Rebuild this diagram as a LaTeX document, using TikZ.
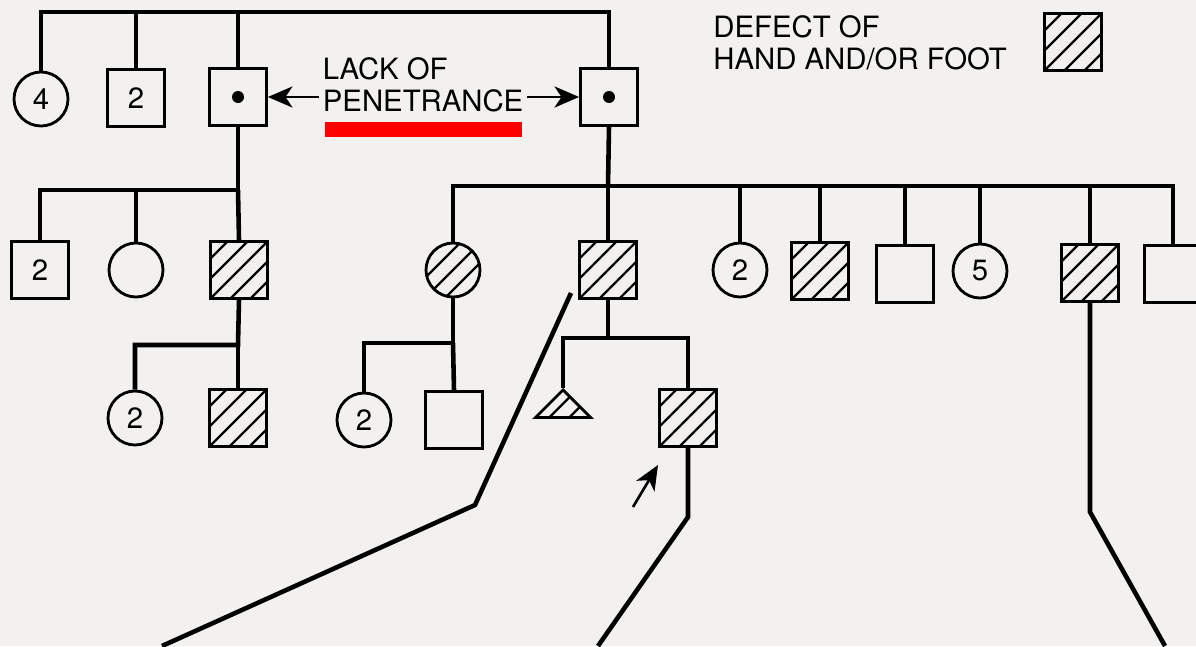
\documentclass[tikz,border=0pt]{standalone}
\usepackage{fontspec}
\setmainfont{TeX Gyre Heros}
\usepackage{tikz}
\usetikzlibrary{shapes.geometric, arrows.meta, positioning, calc}
\definecolor{paper}{RGB}{242,241,239}
\definecolor{marker}{RGB}{255,0,0}

\begin{document}
\begin{tikzpicture}[
  x=0.02cm, y=-0.02cm,
  font=\fontsize{16.7}{18}\selectfont,
  line/.style={line width=2.6pt, line join=miter},
  sq/.style={rectangle, draw, line width=1.6pt, fill=paper,
             minimum size=1.14cm, inner sep=0pt},
  ci/.style={circle, draw, line width=1.6pt, fill=paper,
             minimum size=1.08cm, inner sep=0pt},
  tri/.style={isosceles triangle, isosceles triangle apex angle=90,
              shape border rotate=90, draw, line width=1.6pt, fill=paper,
              minimum height=0.55cm, inner sep=0pt},
  hatched/.style={path picture={
      \foreach \k in {-4,...,4}
        \draw[black, line width=1.3pt]
          ([shift={(\k*0.4cm-1cm,-1cm)}]path picture bounding box.center) -- ++(2cm,2cm);}},
  carrier/.style={path picture={
      \fill[black] (path picture bounding box.center) circle (0.12cm);}},
  arr/.style={-{Stealth[length=14pt,width=12pt,inset=4pt]}, line width=1.5pt},
]
\fill[paper] (0,0) rectangle (1196,646);
\useasboundingbox (0,0) rectangle (1196,646);

% generation I
\node[ci] (i1) at (41,99) {4};
\node[sq] (i2) at (136,98) {2};
\node[sq, carrier] (i3) at (238,97) {};
\node[sq, carrier] (i4) at (609,97) {};
\coordinate (g1) at (0,12);

\draw[line] (i1.north) -- (i1.north |- g1) -- (i4.north |- g1) -- (i4.north);
\draw[line] (i2.north) -- (i2.north |- g1);
\draw[line] (i3.north) -- (i3.north |- g1);

\node[align=left, anchor=west, inner sep=2pt] (lop) at (319,85) {LACK OF\\PENETRANCE};
\fill[marker] (325,122) rectangle (522,137);
\draw[arr] (lop.west |- i3) -- (i3.east);
\draw[arr] (lop.east |- i4) -- (i4.west);

% legend
\node[align=left, anchor=west, inner sep=0pt] (key) at (713,43) {DEFECT OF\\HAND AND/OR FOOT};
\node[sq, hatched] (keysq) at (1073,42) {};

% generation II, left branch
\node[sq] (a1) at (40,270) {2};
\node[ci] (a2) at (136,270) {};
\node[sq, hatched] (a3) at (239,270) {};
\coordinate (s2) at (238,190);

\draw[line] (i3.south) -- (s2) -| (a1.north);
\draw[line] (a2.north) -- (a2.north |- s2);
\draw[line] (s2) -- (a3.north);

% generation III, left branch
\node[ci] (b1) at (135,418) {2};
\node[sq, hatched] (b2) at (238,418) {};
\coordinate (s3) at (238,345);

\draw[line] (a3.south) -- (s3) -| (b1.north);
\draw[line] (s3) -- (b2.north);

% generation II, right branch
\node[ci, hatched] (r1) at (453,270) {};
\node[sq, hatched] (r2) at (608,270) {};
\node[ci] (r3) at (740,270) {2};
\node[sq, hatched] (r4) at (820,271) {};
\node[sq] (r5) at (905,274) {};
\node[ci] (r6) at (980,271) {5};
\node[sq, hatched] (r7) at (1090,273) {};
\node[sq] (r8) at (1173,274) {};
\coordinate (s4) at (608,186);

\draw[line] (i4.south) -- (s4);
\draw[line] (r1.north) |- (s4) -| (r8.north);
\foreach \n in {r2,r3,r4,r5,r6,r7}
  \draw[line] (\n.north) -- (\n.north |- s4);

% generation III, right branch
\node[ci] (c1) at (364,420) {2};
\node[sq] (c2) at (454,420) {};
\coordinate (s5) at (453,343);

\draw[line] (r1.south) -- (s5) -| (c1.north);
\draw[line] (s5) -- (c2.north);

\node[tri, hatched, anchor=apex] (t1) at (563,388) {};
\node[sq, hatched] (d2) at (688,418) {};
\coordinate (s6) at (608,338);

\draw[line] (r2.south) -- (s6);
\draw[line] (t1.apex) |- (s6) -| (d2.north);

% proband
\coordinate (pb) at (633,507);
\draw[arr] (pb) -- (658,465);

% leader lines
\coordinate (la) at (571,293);
\draw[line] (la) -- (475,505) -- (162,646);
\draw[line] (d2.south) -- (688,517) -- (598,646);
\draw[line] (r7.south) -- (1090,512) -- (1165,646);

\end{tikzpicture}
\end{document}
